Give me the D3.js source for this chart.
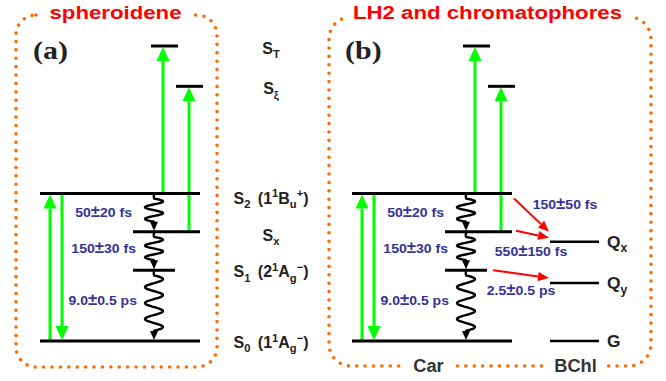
<!DOCTYPE html>
<html>
<head>
<meta charset="utf-8">
<script src="https://cdn.jsdelivr.net/npm/d3@7"></script>
<style>
  body { margin: 0; background: #fff; }
</style>
</head>
<body>
<div class="canva"></div>
<script>
// carotenoid levels, schematic energy units
const carLevels = ["S0", "S1", "Sx", "S2", "Sxi", "ST"];
const carEnergy = [0, 0.72, 1.11, 1.5, 2.59, 3.0];
// bacteriochlorophyll levels
const bchlLevels = ["G", "Qy", "Qx"];
const bchlEnergy = [0, 0.59, 1.01];
// internal conversion (wavy arrows)
const relaxFrom = ["S2", "Sx", "S1"];
const relaxTo = ["Sx", "S1", "S0"];
const relaxTimes = ["50±20 fs", "150±30 fs", "9.0±0.5 ps"];
// energy transfer Car -> BChl
const transferFrom = ["S2", "Sx", "S1"];
const transferTo = ["Qx", "Qx", "Qy"];
const transferTimes = ["150±50 fs", "550±150 fs", "2.5±0.5 ps"];
// optical transitions (green)
const opticalFrom = ["S0", "S2", "S2", "Sx"];
const opticalTo = ["S2", "S0", "ST", "Sxi"];
const panelTitles = ["spheroidene", "LH2 and chromatophores"];
const panelTags = ["(a)", "(b)"];

const W = 666, H = 381;
const SANS = "'Liberation Sans', Arial, Helvetica, sans-serif";
const SERIF = "'Liberation Serif', 'Times New Roman', serif";
const GREEN = "#00ff00", RED = "#ff0000", ORANGE = "#ff6a00", BLUE = "#333399";

const svg = d3.select(".canva").append("svg")
    .attr("width", W)
    .attr("height", H);

const y = d3.scaleLinear().domain([0, 3]).range([341, 46]);
const energyOf = {};
carLevels.forEach((k, i) => energyOf[k] = carEnergy[i]);
bchlLevels.forEach((k, i) => energyOf[k] = bchlEnergy[i]);

// horizontal layout inside a panel (px)
const levelSpan = { S0: [40, 200], S1: [133, 175], Sx: [133, 200], S2: [40, 200], Sxi: [176, 203], ST: [151, 178] };
const bchlSpan = [238, 287];
const opticalX = [50, 62, 163, 189];
const wavyX = 154;
const wavyPeriods = [2, 2, 3.5];
const relaxEndX = [132, 136, 137];
const relaxDy = [4, 2, -1];
const transferLabelX = [253, 219, 209];
const transferLabelY = [209, 256, 295];
const panelOffset = [0, 312];

// text with sub/superscripts, slightly stretched horizontally like the original
function addText(g, x, yy, pieces, o) {
    const t = g.append("text")
        .attr("transform", `translate(${x},${yy}) scale(${o.sx || 1},1)`)
        .attr("text-anchor", o.anchor || "start")
        .attr("font-family", o.family || SANS)
        .attr("font-weight", "bold")
        .attr("font-size", o.size)
        .attr("fill", o.fill || "#222");
    let shift = 0;
    pieces.forEach(p => {
        const mode = p[1] || "n";
        const target = mode === "sub" ? o.size * 0.28 : mode === "sup" ? -o.size * 0.4 : 0;
        const ts = t.append("tspan").text(p[0]).attr("dy", target - shift);
        if (mode === "sub" || mode === "sup") ts.attr("font-size", o.size * 0.7);
        if (mode === "pm") ts.attr("font-size", o.size * 1.2);
        if (p[2]) ts.attr("dx", p[2]);
        shift = target;
    });
    return t;
}

// "50±20 fs" -> pieces with an enlarged ±
const pmPieces = s => {
    const [a, b] = s.split("±");
    return [[a], ["±", "pm"], [b]];
};

function arrow(g, x1, y1, x2, y2, color, width, headLen, headW) {
    const a = Math.atan2(y2 - y1, x2 - x1);
    const bx = x2 - headLen * Math.cos(a), by = y2 - headLen * Math.sin(a);
    g.append("line")
        .attr("x1", x1).attr("y1", y1).attr("x2", bx).attr("y2", by)
        .attr("stroke", color).attr("stroke-width", width);
    const px = -Math.sin(a) * headW / 2, py = Math.cos(a) * headW / 2;
    g.append("path")
        .attr("d", `M${x2},${y2}L${bx + px},${by + py}L${bx - px},${by - py}Z`)
        .attr("fill", color);
}

function wavy(g, x, y1, y2, periods) {
    const lead = 4, tail = 9, amp = 9;
    const len = y2 - y1 - lead - tail;
    const pts = [[x, y1]];
    for (let i = 0; i <= 60; i++) {
        const t = i / 60;
        pts.push([x + amp * Math.sin(t * periods * 2 * Math.PI), y1 + lead + t * len]);
    }
    pts.push([x, y2 - 6]);
    g.append("path")
        .attr("d", d3.line().curve(d3.curveCatmullRom)(pts))
        .attr("fill", "none")
        .attr("stroke", "#000")
        .attr("stroke-width", 2.4);
    g.append("path")
        .attr("d", `M${x},${y2}L${x - 4},${y2 - 9}L${x + 4},${y2 - 9}Z`)
        .attr("fill", "#000");
}

// dotted rounded frames
const frames = [
    { x: 16, y: 15, w: 201, h: 352, r: 20 },
    { x: 329, y: 17, w: 322, h: 349, r: 22 }
];
frames.forEach(f => {
    svg.append("rect")
        .attr("x", f.x).attr("y", f.y).attr("width", f.w).attr("height", f.h)
        .attr("rx", f.r).attr("ry", f.r)
        .attr("fill", "none")
        .attr("stroke", ORANGE)
        .attr("stroke-width", 3.6)
        .attr("stroke-linecap", "round")
        .attr("stroke-dasharray", "0 8.4");
});

// titles over the frames
const titleGap = [[42, 189], [343, 632]];
panelTitles.forEach((t, i) => {
    svg.append("rect")
        .attr("x", titleGap[i][0]).attr("y", 4)
        .attr("width", titleGap[i][1] - titleGap[i][0]).attr("height", 24)
        .attr("fill", "#fff");
    addText(svg, (titleGap[i][0] + titleGap[i][1]) / 2, 19, [[t]],
        { size: 19, sx: 1.17, anchor: "middle", fill: RED });
});

// bottom labels of panel b
const footLabels = ["Car", "BChl"];
const footGap = [[404, 453], [545, 606]];
footLabels.forEach((t, i) => {
    svg.append("rect")
        .attr("x", footGap[i][0]).attr("y", 358)
        .attr("width", footGap[i][1] - footGap[i][0]).attr("height", 16)
        .attr("fill", "#fff");
    addText(svg, (footGap[i][0] + footGap[i][1]) / 2, 372, [[t]],
        { size: 17.5, sx: 1.04, anchor: "middle", fill: "#333" });
});

panelOffset.forEach((off, p) => {
    const g = svg.append("g").attr("transform", `translate(${off},0)`);

    addText(g, 33, 59, [[panelTags[p]]], { size: 25, sx: 1.2, family: SERIF, fill: "#222" });

    // green optical transitions
    opticalFrom.forEach((from, i) => {
        const to = opticalTo[i];
        const up = energyOf[to] > energyOf[from];
        const y1 = y(energyOf[from]), y2 = y(energyOf[to]) + (up ? 1 : -1);
        arrow(g, opticalX[i], y1, opticalX[i], y2, GREEN, 3, 14, 13);
    });

    // level lines
    carLevels.forEach(k => {
        g.append("line")
            .attr("x1", levelSpan[k][0]).attr("x2", levelSpan[k][1])
            .attr("y1", y(energyOf[k])).attr("y2", y(energyOf[k]))
            .attr("stroke", "#000").attr("stroke-width", 3);
    });

    // wavy internal conversion
    relaxFrom.forEach((from, i) => {
        const y1 = y(energyOf[from]), y2 = y(energyOf[relaxTo[i]]);
        wavy(g, wavyX, y1 + 1, y2 - 1, wavyPeriods[i]);
        addText(g, relaxEndX[i], (y1 + y2) / 2 + relaxDy[i], pmPieces(relaxTimes[i]),
            { size: 13, sx: 1.08, anchor: "end", fill: BLUE });
    });

    if (p === 1) {
        bchlLevels.forEach(k => {
            g.append("line")
                .attr("x1", bchlSpan[0]).attr("x2", bchlSpan[1])
                .attr("y1", y(energyOf[k])).attr("y2", y(energyOf[k]))
                .attr("stroke", "#000").attr("stroke-width", 2.6);
        });
        const bLabels = { G: [["G"]], Qy: [["Q"], ["y", "sub"]], Qx: [["Q"], ["x", "sub"]] };
        bchlLevels.forEach(k => {
            addText(g, 295, y(energyOf[k]) + 6, bLabels[k], { size: 17, sx: 1.02 });
        });
        const startDx = [2, 4, 6], startDy = [5, -1, 0], endDy = [-10, -4, -5];
        transferFrom.forEach((from, i) => {
            const to = transferTo[i];
            arrow(g, levelSpan[from][1] + startDx[i], y(energyOf[from]) + startDy[i],
                bchlSpan[0] - 1, y(energyOf[to]) + endDy[i], RED, 2, 11, 9);
            addText(g, transferLabelX[i], transferLabelY[i], pmPieces(transferTimes[i]),
                { size: 13, sx: 1.08, anchor: "middle", fill: BLUE });
        });
    }
});

// state labels between the panels
const stateLabels = {
    ST: [["S"], ["T", "sub"]],
    Sxi: [["S"], ["ξ", "sub"]],
    S2: [["S"], ["2", "sub"], ["  (1", "n", 3], ["1", "sup"], ["B"], ["u", "sub"], ["+", "sup"], [")"]],
    Sx: [["S"], ["x", "sub"]],
    S1: [["S"], ["1", "sub"], ["  (2", "n", 3], ["1", "sup"], ["A"], ["g", "sub"], ["−", "sup"], [")"]],
    S0: [["S"], ["0", "sub"], ["  (1", "n", 3], ["1", "sup"], ["A"], ["g", "sub"], ["−", "sup"], [")"]]
};
const stateDy = { ST: 8, Sxi: 8, S2: 10, Sx: 9, S1: 7, S0: 7 };
carLevels.forEach(k => {
    addText(svg, 271, y(energyOf[k]) + stateDy[k], stateLabels[k], { size: 16, anchor: "middle" });
});
</script>
</body>
</html>
